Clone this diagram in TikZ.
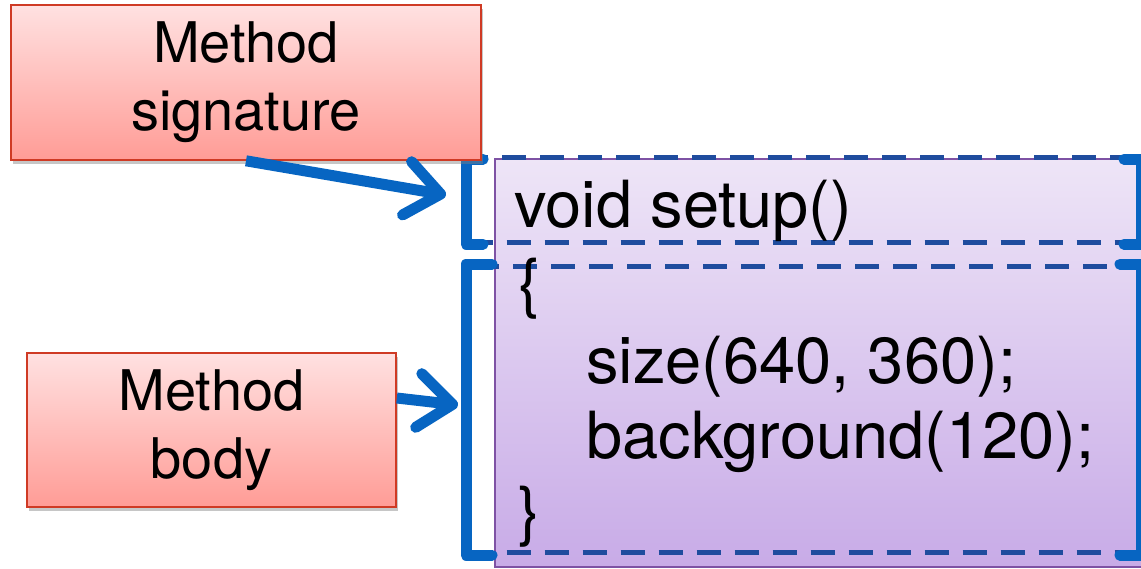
\documentclass[tikz,border=0pt]{standalone}
\usepackage{fontspec}
\setmainfont{TeX Gyre Heros}
\usetikzlibrary{arrows.meta,shadows}
\definecolor{redtop}{HTML}{FFE1E1}
\definecolor{redbot}{HTML}{FF9C96}
\definecolor{redline}{HTML}{CF3A24}
\definecolor{purtop}{HTML}{EEE5F7}
\definecolor{purbot}{HTML}{C8ABE7}
\definecolor{purline}{HTML}{7E52A4}
\definecolor{brk}{HTML}{0765C2}
\definecolor{dsh}{HTML}{1F4C9E}
\begin{document}
\begin{tikzpicture}[x=1pt,y=1pt,
 labelbox/.style={draw=redline, line width=1.6pt, top color=redtop, bottom color=redbot, align=center, inner sep=0pt,
   font=\fontsize{56}{68}\selectfont, drop shadow={shadow xshift=2pt, shadow yshift=-4pt, opacity=0.45}},
 codebox/.style={draw=purline, line width=1.5pt, top color=purtop, bottom color=purbot, inner sep=0pt, anchor=north west},
 region/.style={draw=dsh, line width=5pt, dash pattern=on 24pt off 14pt, inner sep=0pt, anchor=north west},
 bracket/.style={draw=brk, line width=11pt, line cap=round, line join=round},
 pointer/.style={draw=brk, line width=11pt, -{Straight Barb[length=34pt, width=54pt, round]}},
 code/.style={anchor=base west, inner sep=0pt, font=\fontsize{65}{75}\selectfont}
]
\useasboundingbox (0,0) rectangle (1141,-568);

% code area
\node[codebox, minimum width=650pt, minimum height=408pt] (code) at (494,-158) {};
\node[region, minimum width=670pt, minimum height=85pt] (sigreg) at (466,-155) {};
\node[region, minimum width=670pt, minimum height=286pt] (bodyreg) at (466,-264) {};

% brackets
\draw[bracket] ([shift={(17,-4)}]sigreg.north west) -| ([yshift=1pt]sigreg.south west) -- ++(17,0);
\draw[bracket] ([shift={(-17,-4)}]sigreg.north east) -| ([yshift=1pt]sigreg.south east) -- ++(-17,0);
\draw[bracket] ([shift={(26,0)}]bodyreg.north west) -| (bodyreg.south west) -- ++(26,0);
\draw[bracket] ([shift={(-21,0)}]bodyreg.north east) -| (bodyreg.south east) -- ++(-21,0);

% code text
\node[code] (l1) at (514,-227) {void setup()};
\node[code] (l2) at (518,-305) {\{};
\node[code] (l3) at (586,-383) {size(640, 360);};
\node[code] (l4) at (586,-458) {background(120);};
\node[code] (l5) at (518,-533) {\}};

% arrow tips
\coordinate (sigtip) at ([shift={(-20,-40)}]sigreg.north west);
\coordinate (bodytip) at ([shift={(-8,-141)}]bodyreg.north west);

% labels
\node[labelbox, minimum width=470pt, minimum height=155pt] (sig) at (246,-82.5) {Method\\signature};
\node[labelbox, minimum width=369pt, minimum height=154pt] (body) at (211.5,-430) {Method\\body};

\draw[pointer] (sig.south) -- (sigtip);
\draw[pointer] ([yshift=32pt]body.east) -- (bodytip);
\end{tikzpicture}
\end{document}
